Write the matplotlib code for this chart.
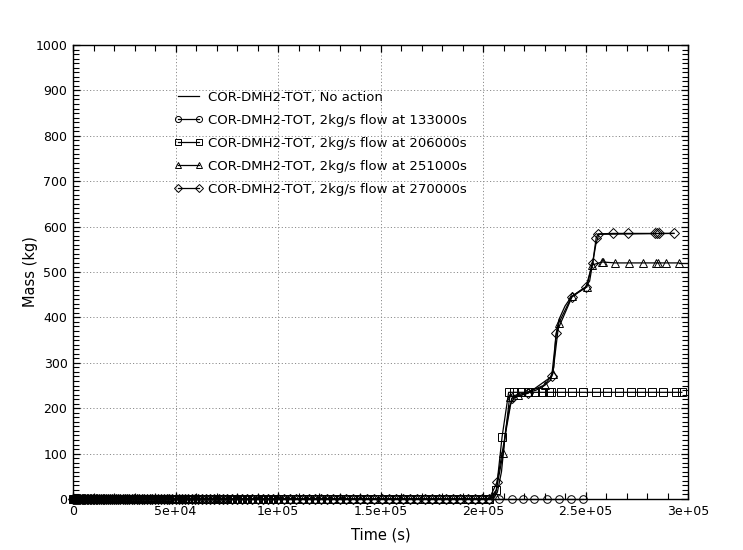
import numpy as np
import matplotlib
matplotlib.use("Agg")
import matplotlib.pyplot as plt
from matplotlib.ticker import MultipleLocator, FuncFormatter

# time points (s) where all runs are still at zero mass
t_early = [0, 500, 1000, 1500, 2000, 2500, 3000, 3600, 4200, 4800, 5400, 6000,
           6700, 7400, 8100, 8800, 9500, 10300, 11100, 11900, 12700, 13500,
           14400, 15300, 16200, 17100, 18000, 19000, 20000, 21000, 22000,
           23100, 24200, 25300, 26400, 27500, 28700, 29900, 31100, 32300,
           33500, 34800, 36100, 37400, 38700, 40000, 41400, 42800, 44200,
           45600, 47000, 48500, 50000, 51500, 53000, 54600, 56200, 57800,
           59400, 61000, 63000, 65000, 67000, 69000, 71000, 73000, 75000,
           77500, 80000, 82500, 85000, 87500, 90000, 92500, 95000, 97500,
           100000, 103000, 106000, 109000, 112000, 115000, 118000, 121000,
           124000, 127000, 130000, 133000, 136500, 140000, 143500, 147000,
           150500, 154000, 157500, 161000, 164500, 168000, 171500, 175000,
           178500, 182000, 185500, 189000, 192500, 196000, 199500, 203000]
m_early = list(np.zeros(len(t_early)))

# no action
t_none = [0, 205000, 207000, 209000, 211000, 213000, 215000, 218000, 222000,
          226000, 230000, 233000, 234500, 235500, 237000, 240000, 243000,
          247000, 250000, 252000, 253500, 255000, 256500, 293000]
m_none = [0, 0, 15, 60, 150, 205, 222, 228, 234, 240, 250, 262, 290, 360,
          395, 425, 445, 458, 467, 480, 520, 560, 583, 585]

# 2kg/s flow at 133000s
t_133 = t_early + [208000, 214000, 219500, 225000, 231000, 237000, 243000, 249000]
m_133 = m_early + [0, 0, 0, 0, 0, 0, 0, 0]

# 2kg/s flow at 206000s
t_206 = t_early + [206500, 209300, 212500, 215000, 218500, 222000, 225500,
                   229000, 232000, 233000, 238000, 243500, 249000, 255000,
                   260500, 266500, 272000, 277000, 282500, 288000, 294000,
                   297000]
m_206 = m_early + [20, 137, 235, 235, 235, 235, 235, 235, 235, 235, 235, 235,
                   235, 235, 235, 235, 235, 235, 235, 235, 235, 235]

# 2kg/s flow at 251000s
t_251 = t_early + [206000, 209800, 213000, 217000, 222000, 230000, 234000,
                   237000, 243400, 250700, 253000, 258000, 258500, 264400,
                   271200, 278000, 284400, 285400, 289300, 295600]
m_251 = m_early + [8, 101, 225, 230, 236, 251, 275, 388, 447, 467, 515, 522,
                   522, 520, 520, 520, 520, 520, 520, 520]
t_251_end = [295600, 300000]
m_251_end = [520, 520]

# 2kg/s flow at 270000s
t_270 = t_early + [206800, 214000, 222000, 233500, 235800, 243400, 250200,
                   253500, 255200, 256100, 263400, 270700, 283900, 284900,
                   285900, 293200]
m_270 = m_early + [37, 222, 233, 270, 366, 445, 467, 520, 575, 584, 585, 585,
                   585, 585, 585, 585]

labels = ["COR-DMH2-TOT, No action",
          "COR-DMH2-TOT, 2kg/s flow at 133000s",
          "COR-DMH2-TOT, 2kg/s flow at 206000s",
          "COR-DMH2-TOT, 2kg/s flow at 251000s",
          "COR-DMH2-TOT, 2kg/s flow at 270000s"]

plt.rcParams['font.family'] = ['DejaVu Sans']

fig = plt.figure(figsize=(7.43, 5.5), dpi=100)
ax = fig.add_axes([0.0983, 0.0927, 0.8277, 0.8255])

style = dict(color="black", linewidth=0.9, markersize=5.5,
             markerfacecolor="none", markeredgewidth=0.7, clip_on=False)

ax.plot(t_none, m_none, color="black", linewidth=0.9, label=labels[0])
ax.plot(t_133, m_133, marker="o", label=labels[1], **style)
ax.plot(t_206, m_206, marker="s", label=labels[2], **style)
ax.plot(t_251, m_251, marker="^", label=labels[3], **style)
ax.plot(t_251_end, m_251_end, color="black", linewidth=0.9)
ax.plot(t_270, m_270, marker="D", label=labels[4],
        **{**style, "markersize": 4.6})

ax.set_xlim(0, 3e5)
ax.set_ylim(0, 1000)

ax.xaxis.set_major_locator(MultipleLocator(5e4))
ax.xaxis.set_minor_locator(MultipleLocator(1e4))
ax.yaxis.set_major_locator(MultipleLocator(100))
ax.yaxis.set_minor_locator(MultipleLocator(10))


def xfmt(v, pos):
    if v == 0:
        return "0"
    s = "%.1e" % v
    mant, exp = s.split("e")
    mant = mant.rstrip("0").rstrip(".")
    return "%se+%02d" % (mant, int(exp))


ax.xaxis.set_major_formatter(FuncFormatter(xfmt))

ax.tick_params(which="both", direction="in", top=True, right=True,
               labelsize=9, color="black")
ax.tick_params(which="major", length=5, width=0.9, pad=4)
ax.tick_params(which="minor", length=4, width=0.8)

ax.grid(True, which="major", linestyle=(0, (1.2, 2.2)), color="#8c8c8c",
        linewidth=0.7)
ax.set_axisbelow(True)

for sp in ax.spines.values():
    sp.set_linewidth(1.0)

ax.set_xlabel("Time (s)", fontsize=10.5, labelpad=7)
ax.set_ylabel("Mass (kg)", fontsize=10.5, labelpad=-2)

ax.legend(loc="upper left", bbox_to_anchor=(0.145, 0.925), frameon=False,
          fontsize=9.5, handlelength=2.2, labelspacing=0.75,
          handletextpad=0.4, numpoints=2, markerscale=0.8)

fig.savefig("out.png", dpi=100)
